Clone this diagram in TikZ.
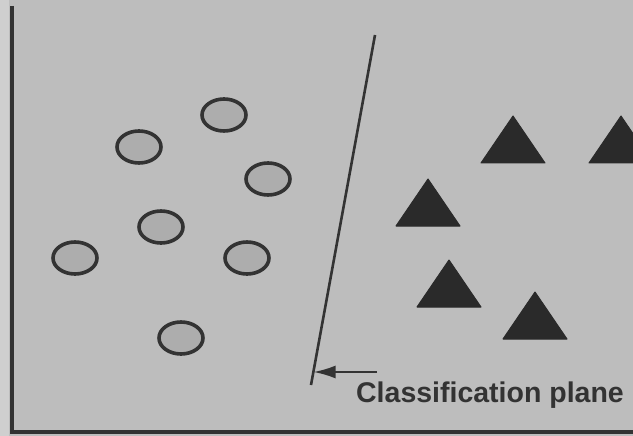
\documentclass[tikz,border=0pt]{standalone}
\usepackage{fontspec}
\setmainfont{Liberation Sans}
\usetikzlibrary{shapes.geometric,arrows.meta}
\definecolor{bg}{HTML}{BDBDBD}
\definecolor{strip}{HTML}{CFCFCF}
\definecolor{ink}{HTML}{333333}
\definecolor{dotfill}{HTML}{ADADAD}
\definecolor{trifill}{HTML}{2A2A2A}
\tikzset{
  dot/.style={ellipse, draw=ink, line width=3.6pt, fill=dotfill, minimum width=44pt, minimum height=32pt, inner sep=0pt},
  tri/.style={fill=trifill, draw=trifill, line width=1pt, line join=round},
  frame/.style={draw=ink, line width=4.5pt},
  plane/.style={draw=ink, line width=2.6pt},
  label/.style={font=\bfseries\fontsize{28.5}{31}\selectfont, text=ink, inner sep=0pt}
}
\begin{document}
\begin{tikzpicture}[x=1pt,y=-1pt]
\useasboundingbox (0,0) rectangle (633,436);
\fill[bg] (0,0) rectangle (633,436);
\fill[strip] (0,0) rectangle (9,436);
% frame
\coordinate (ftop) at (12,6);
\coordinate (fcorner) at (12,432);
\coordinate (fright) at (640,432);
\draw[frame] (ftop) -- (fcorner) -- (fright);
% circles
\node[dot] (c1) at (224,115) {};
\node[dot] (c2) at (139,147) {};
\node[dot] (c3) at (268,179) {};
\node[dot] (c4) at (161,227) {};
\node[dot] (c5) at (75,258) {};
\node[dot] (c6) at (247,258) {};
\node[dot] (c7) at (181,338) {};
% triangles
\path[tri] (513,116) -- ++(-32,47) -- ++(64,0) -- cycle;
\path[tri] (621,116) -- ++(-32,47) -- ++(64,0) -- cycle;
\path[tri] (428,179) -- ++(-32,47) -- ++(64,0) -- cycle;
\path[tri] (449,260) -- ++(-32,47) -- ++(64,0) -- cycle;
\path[tri] (535,292) -- ++(-32,47) -- ++(64,0) -- cycle;
% classification plane
\coordinate (ptop) at (375,35);
\coordinate (pbot) at (311,385);
\draw[plane] (ptop) -- (pbot);
\coordinate (ahit) at (313.6,372);
\coordinate (astart) at (377,372);
\draw[ink, line width=2pt, -{Latex[length=22pt,width=13pt]}] (astart) -- (ahit);
\node[label, anchor=center] (lbl) at (490,395) {Classification plane};
\end{tikzpicture}
\end{document}
